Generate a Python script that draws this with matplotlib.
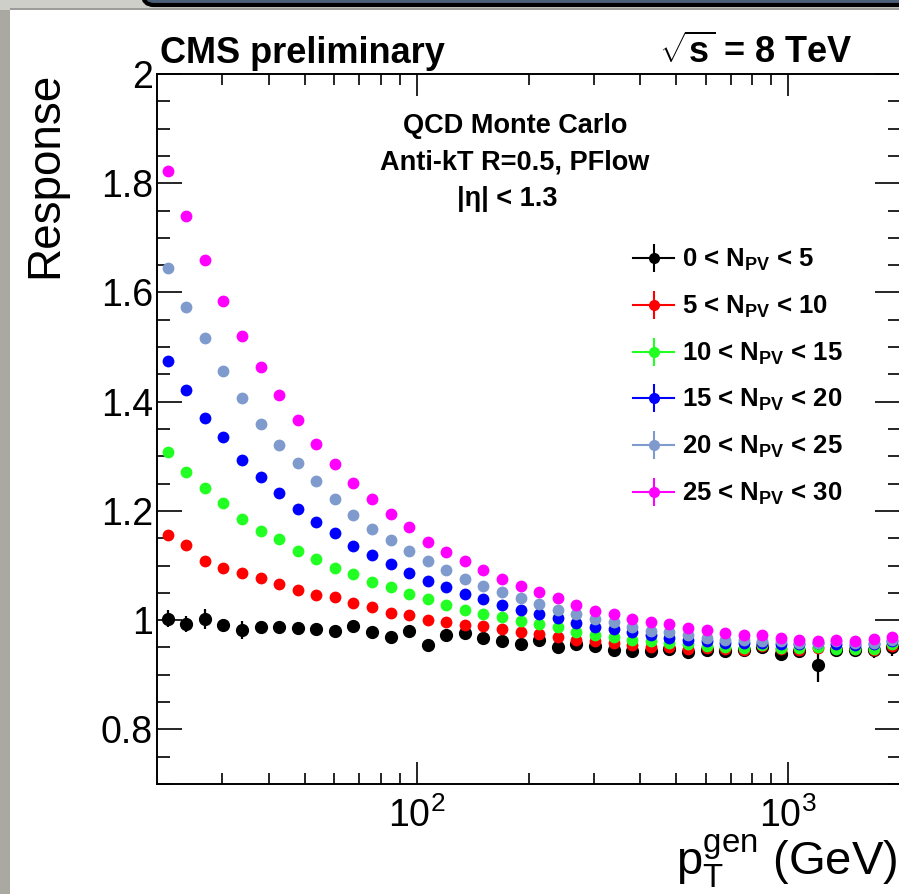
import math
import matplotlib
matplotlib.use("Agg")
import matplotlib.pyplot as plt
from matplotlib.lines import Line2D
from matplotlib.legend_handler import HandlerTuple
from matplotlib.patches import Rectangle, FancyBboxPatch
from matplotlib.ticker import FixedLocator, MultipleLocator, NullFormatter, FuncFormatter

plt.rcParams['font.family'] = ['Liberation Sans', 'DejaVu Sans']
plt.rcParams['mathtext.fontset'] = 'custom'
plt.rcParams['mathtext.rm'] = 'Liberation Sans'
plt.rcParams['mathtext.bf'] = 'Liberation Sans:bold'
plt.rcParams['mathtext.it'] = 'Liberation Sans:italic'

# bin centres in generated jet pT (GeV)
pt_gen = [21.4, 24.0, 26.9, 30.2, 33.9, 38.0, 42.7, 47.9, 53.7, 60.3,
          67.6, 75.9, 85.1, 95.5, 107, 120, 135, 151, 170, 191,
          214, 240, 269, 302, 339, 380, 427, 479, 537, 603,
          676, 759, 851, 955, 1072, 1202, 1349, 1514, 1698, 1905]

resp_0_5 = [1.003, 0.993, 1.002, 0.991, 0.982, 0.988, 0.987, 0.986, 0.983, 0.981,
            0.989, 0.978, 0.969, 0.981, 0.955, 0.973, 0.976, 0.967, 0.961, 0.957,
            0.964, 0.950, 0.956, 0.953, 0.945, 0.944, 0.943, 0.947, 0.941, 0.946,
            0.944, 0.945, 0.950, 0.938, 0.944, 0.917, 0.946, 0.946, 0.945, 0.950]
err_0_5 = [0.015, 0.014, 0.018, 0.009, 0.016, 0.008, 0.006, 0.006, 0.006, 0.006,
           0.006, 0.006, 0.006, 0.006, 0.008, 0.006, 0.005, 0.005, 0.005, 0.005,
           0.005, 0.005, 0.005, 0.005, 0.005, 0.005, 0.005, 0.005, 0.005, 0.006,
           0.006, 0.007, 0.008, 0.010, 0.012, 0.031, 0.010, 0.012, 0.014, 0.016]

resp_5_10 = [1.155, 1.138, 1.109, 1.096, 1.086, 1.077, 1.066, 1.055, 1.046, 1.042,
             1.031, 1.025, 1.013, 1.010, 1.001, 0.997, 0.992, 0.989, 0.983, 0.978,
             0.975, 0.970, 0.964, 0.962, 0.958, 0.955, 0.951, 0.950, 0.947, 0.949,
             0.947, 0.945, 0.953, 0.947, 0.945, 0.949, 0.949, 0.947, 0.945, 0.953]

resp_10_15 = [1.307, 1.271, 1.242, 1.215, 1.186, 1.164, 1.149, 1.127, 1.112, 1.095,
              1.085, 1.069, 1.060, 1.047, 1.039, 1.028, 1.019, 1.012, 1.005, 0.999,
              0.993, 0.987, 0.979, 0.973, 0.970, 0.964, 0.961, 0.958, 0.956, 0.953,
              0.951, 0.949, 0.955, 0.949, 0.949, 0.951, 0.948, 0.947, 0.948, 0.956]

resp_15_20 = [1.474, 1.422, 1.371, 1.336, 1.294, 1.262, 1.232, 1.204, 1.179, 1.159,
              1.136, 1.119, 1.102, 1.087, 1.071, 1.060, 1.048, 1.038, 1.028, 1.019,
              1.011, 1.004, 0.994, 0.988, 0.984, 0.978, 0.973, 0.968, 0.964, 0.961,
              0.959, 0.959, 0.958, 0.956, 0.956, 0.958, 0.956, 0.955, 0.956, 0.961]

resp_20_25 = [1.645, 1.574, 1.516, 1.456, 1.407, 1.359, 1.320, 1.288, 1.254, 1.221,
              1.193, 1.167, 1.147, 1.127, 1.108, 1.092, 1.075, 1.062, 1.051, 1.040,
              1.030, 1.019, 1.011, 1.002, 0.997, 0.987, 0.981, 0.978, 0.973, 0.968,
              0.964, 0.964, 0.962, 0.962, 0.959, 0.959, 0.961, 0.958, 0.959, 0.964]

resp_25_30 = [1.822, 1.740, 1.660, 1.585, 1.520, 1.464, 1.412, 1.367, 1.323, 1.286,
              1.251, 1.221, 1.195, 1.170, 1.144, 1.125, 1.108, 1.092, 1.075, 1.062,
              1.051, 1.040, 1.028, 1.017, 1.011, 1.002, 0.996, 0.993, 0.986, 0.982,
              0.976, 0.973, 0.972, 0.967, 0.964, 0.962, 0.964, 0.962, 0.966, 0.970]

npv_labels = [r"0 < N$_{\mathbf{PV}}$ < 5", r"5 < N$_{\mathbf{PV}}$ < 10",
              r"10 < N$_{\mathbf{PV}}$ < 15", r"15 < N$_{\mathbf{PV}}$ < 20",
              r"20 < N$_{\mathbf{PV}}$ < 25", r"25 < N$_{\mathbf{PV}}$ < 30"]
npv_colors = ["#000000", "#ff0000", "#22ff22", "#0000ff", "#7f9acd", "#ff00ff"]
responses = [resp_0_5, resp_5_10, resp_10_15, resp_15_20, resp_20_25, resp_25_30]

W, H = 899, 894
fig = plt.figure(figsize=(W / 100, H / 100), dpi=100)
fig.patch.set_facecolor("white")

# slide border: grey shadow on the left/top and the dark title box at the top
fig.add_artist(Rectangle((0, 0), 10 / W, 1, transform=fig.transFigure,
                         facecolor="#a9a9a2", edgecolor="none"))
fig.add_artist(Rectangle((0, 1 - 10 / H), 1, 10 / H, transform=fig.transFigure,
                         facecolor="#cfcfca", edgecolor="none"))
fig.add_artist(Rectangle((10 / W, 1 - 10 / H), 1, 2 / H, transform=fig.transFigure,
                         facecolor="#9c9c98", edgecolor="none"))
fig.add_artist(FancyBboxPatch((143 / W, 1 - 5 / H), 1.0, 0.1,
                              boxstyle="round,pad=0,rounding_size=0.012",
                              transform=fig.transFigure, facecolor="#4d6079",
                              edgecolor="black", linewidth=3.0))

ax = fig.add_axes([157 / W, (H - 784) / H, (900 - 157) / W, (784 - 74) / H])

ax.errorbar(pt_gen, resp_0_5, yerr=err_0_5, fmt="o", color=npv_colors[0],
            markersize=8.5, elinewidth=1.6, capsize=0, zorder=3)
for i in range(1, 6):
    ax.plot(pt_gen, responses[i], "o", color=npv_colors[i], markersize=8.5,
            markeredgewidth=0, zorder=3 + i)

ax.set_xscale("log")
ax.set_xlim(20, 2000)
ax.set_ylim(0.7, 2.0)

ax.xaxis.set_major_locator(FixedLocator([100, 1000]))
ax.xaxis.set_minor_locator(FixedLocator([30, 40, 50, 60, 70, 80, 90,
                                         200, 300, 400, 500, 600, 700, 800, 900]))
ax.xaxis.set_major_formatter(FuncFormatter(lambda v, p: r"$10^{%d}$" % round(math.log10(v))))
ax.xaxis.set_minor_formatter(NullFormatter())
ax.yaxis.set_major_locator(FixedLocator([0.8, 1.0, 1.2, 1.4, 1.6, 1.8, 2.0]))
ax.yaxis.set_minor_locator(MultipleLocator(0.05))
ax.yaxis.set_major_formatter(FuncFormatter(lambda v, p: "%g" % round(v, 2)))

ax.tick_params(which="both", direction="in", top=True, right=True, width=1.2,
               colors="black", labelsize=27)
ax.tick_params(axis="x", which="major", length=16, pad=10)
ax.tick_params(axis="x", which="minor", length=8)
ax.tick_params(axis="y", which="major", length=18, pad=3)
ax.tick_params(axis="y", which="minor", length=9)
for sp in ax.spines.values():
    sp.set_linewidth(1.4)

# header texts
fig.text(160 / W, 1 - 63 / H, "CMS preliminary", fontsize=26, fontweight="bold",
         ha="left", va="baseline")
fig.text(853 / W, 1 - 63 / H, r"$\sqrt{\mathbf{s}}$ = 8 TeV", fontsize=26,
         fontweight="bold", ha="right", va="baseline")

# axis titles
fig.text(45 / W, 1 - 72 / H, "Response", fontsize=33, rotation=90,
         ha="center", va="top")
fig.text(897 / W, 1 - 875 / H, r"p$_\mathrm{T}^\mathrm{gen}$ (GeV)", fontsize=34,
         ha="right", va="baseline")

# selection info
fig.text(515 / W, 1 - 133 / H, "QCD Monte Carlo", fontsize=19.5, fontweight="bold",
         ha="center", va="baseline")
fig.text(515 / W, 1 - 170 / H, "Anti-kT R=0.5, PFlow", fontsize=19.5,
         fontweight="bold", ha="center", va="baseline")
fig.text(507 / W, 1 - 206 / H, "|η| < 1.3", fontsize=19.5, fontweight="bold",
         ha="center", va="baseline")

# legend with horizontal line, vertical bar and marker drawn on top of each other
handles = []
for c in npv_colors:
    h_line = Line2D([], [], color=c, linewidth=1.5)
    v_bar = Line2D([], [], color=c, marker="|", markersize=20,
                   markeredgewidth=1.5, linestyle="none")
    dot = Line2D([], [], color=c, marker="o", markersize=8, markeredgewidth=0,
                 linestyle="none")
    handles.append((h_line, v_bar, dot))

leg = fig.legend(handles, npv_labels, loc="upper left",
                 bbox_to_anchor=(633 / W, 1 - 247 / H),
                 handler_map={tuple: HandlerTuple(ndivide=1, pad=0)},
                 frameon=False, borderpad=0, borderaxespad=0,
                 handlelength=1.6, handletextpad=0.3, labelspacing=0.8,
                 prop={"size": 18.5, "weight": "bold"})

fig.savefig("out.png", dpi=100)
